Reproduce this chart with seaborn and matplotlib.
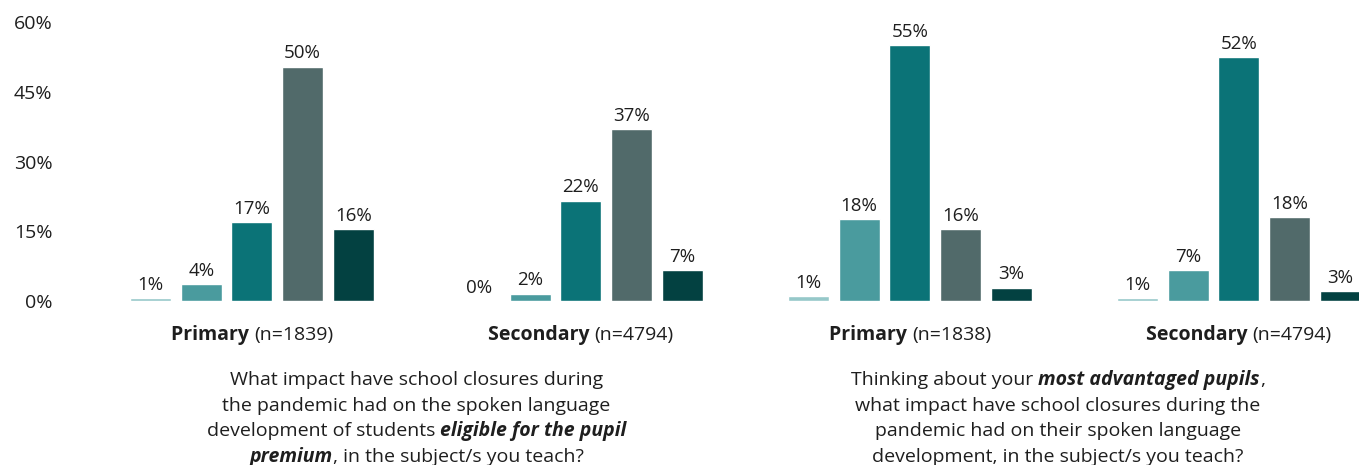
import pandas as pd
import seaborn as sns
import matplotlib.pyplot as plt
from matplotlib.transforms import IdentityTransform

# groups along the x axis
groups = ["Primary (n=1839)", "Secondary (n=4794)", "Primary (n=1838)", "Secondary (n=4794)"]
group_ids = ["g1", "g2", "g3", "g4"]
responses = ["Much improved", "Slightly improved", "No impact", "Slightly worse", "Much worse"]

# bar heights (%), one list per group
g1_vals = [0.7, 3.6, 16.9, 50.4, 15.4]
g2_vals = [0.0, 1.6, 21.6, 37.0, 6.7]
g3_vals = [1.0, 17.6, 55.0, 15.4, 2.9]
g4_vals = [0.65, 6.7, 52.4, 18.0, 2.1]

# printed labels
g1_labels = [1, 4, 17, 50, 16]
g2_labels = [0, 2, 22, 37, 7]
g3_labels = [1, 18, 55, 16, 3]
g4_labels = [1, 7, 52, 18, 3]

colors = ["#96C8C9", "#4A9B9E", "#0B7377", "#516A6A", "#034141"]
TXT = "#1e1e1e"

rows = []
for gid, vals, labs in zip(group_ids, [g1_vals, g2_vals, g3_vals, g4_vals],
                           [g1_labels, g2_labels, g3_labels, g4_labels]):
    for r, v, l in zip(responses, vals, labs):
        rows.append({"group": gid, "response": r, "value": v, "label": l})
df = pd.DataFrame(rows)

sns.set_style("white")
plt.rcParams['font.family'] = ['Open Sans', 'DejaVu Sans']

W, H = 1359, 465
fig = plt.figure(figsize=(W / 100, H / 100), dpi=100)
ax = fig.add_axes([65 / W, (H - 301) / H, (W - 65) / W, 279 / H])

sns.barplot(data=df, x="group", y="value", hue="response", hue_order=responses,
            order=group_ids, palette=colors, width=0.77, gap=0.19,
            saturation=1, legend=False, ax=ax)

for container, resp in zip(ax.containers, responses):
    labs = [f"{v}%" for v in df[df.response == resp]["label"]]
    ax.bar_label(container, labels=labs, padding=3, fontsize=13.5, color=TXT)

ax.set_ylim(0, 60)
ax.set_xlim(-0.568, 3.365)
ax.set_yticks([0, 15, 30, 45, 60])
ax.set_yticklabels([f"{t}%" for t in [0, 15, 30, 45, 60]], fontsize=14, color=TXT)
ax.tick_params(axis="y", length=0, pad=9)
ax.set_xticks([])
ax.set_xlabel("")
ax.set_ylabel("")
for s in ax.spines.values():
    s.set_visible(False)


def rich_line(x_disp, y_disp, segments, size=14):
    # draw a centred line made of differently styled pieces
    renderer = fig.canvas.get_renderer()
    pieces = []
    for txt, weight, style in segments:
        t = fig.text(0, 0, txt, transform=IdentityTransform(), fontsize=size,
                     fontweight=weight, fontstyle=style, color=TXT,
                     va="baseline", ha="left")
        pieces.append(t)
    widths = [p.get_window_extent(renderer).width for p in pieces]
    x = x_disp - sum(widths) / 2
    for p, w in zip(pieces, widths):
        p.set_position((x, y_disp))
        x += w


fig.canvas.draw()
for i, g in enumerate(groups):
    name, n = g.split(" ", 1)
    xd = ax.transData.transform((i, 0))[0]
    rich_line(xd, H - 340, [(name + " ", "bold", "normal"), (n, "normal", "normal")])

q1 = [
    [("What impact have school closures during", "normal", "normal")],
    [("the pandemic had on the spoken language", "normal", "normal")],
    [("development of students ", "normal", "normal"),
     ("eligible for the pupil", "bold", "italic")],
    [("premium", "bold", "italic"), (", in the subject/s you teach?", "normal", "normal")],
]
q2 = [
    [("Thinking about your ", "normal", "normal"),
     ("most advantaged pupils", "bold", "italic"), (",", "normal", "normal")],
    [("what impact have school closures during the", "normal", "normal")],
    [("pandemic had on their spoken language", "normal", "normal")],
    [("development, in the subject/s you teach?", "normal", "normal")],
]
for xq, lines in [(0.5, q1), (2.45, q2)]:
    xd = ax.transData.transform((xq, 0))[0]
    for k, line in enumerate(lines):
        rich_line(xd, H - (385 + 25.7 * k), line)

fig.savefig("out.png", dpi=100)
